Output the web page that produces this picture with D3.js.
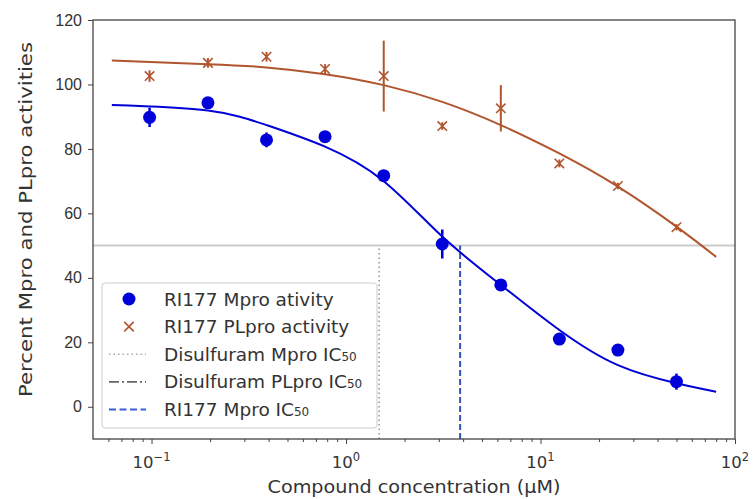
<!DOCTYPE html>
<html>
<head>
<meta charset="utf-8">
<script src="https://cdn.jsdelivr.net/npm/d3@7"></script>
<style>
  body { margin: 0; background: #fff; }
  svg { font-family: "DejaVu Sans", sans-serif; }
</style>
</head>
<body>
<div id="chart"></div>
<script>
// measured points (uM, percent activity)
const conc = [0.0977, 0.195, 0.39, 0.78, 1.5625, 3.125, 6.25, 12.5, 25, 50];
const mpro = [89.8, 94.3, 82.8, 83.8, 71.7, 50.5, 37.8, 21.0, 17.6, 7.8];
const mproErr = [3, 0.8, 2.3, 1, 1, 4.5, 1, 1, 1, 2.5];
const plpro = [102.6, 106.7, 108.6, 104.8, 102.6, 87.1, 92.6, 75.5, 68.5, 55.7];
const plproErr = [1.8, 1.5, 1.5, 1.5, 11, 1.2, 7.2, 1.2, 1, 1];

// fitted curves
const fitConc = [0.0625, 0.195, 0.39, 0.78, 1.5625, 3.125, 6.25, 12.5, 25, 50, 80];
const mproFit = [93.6, 91.9, 87.4, 80.7, 70.0, 52.8, 37.8, 23.8, 12.9, 7.3, 4.65];
const plproFit = [107.4, 106.3, 105.3, 103.2, 99.8, 94.6, 87.4, 78.6, 68.3, 55.9, 46.5];

// IC50 markers
const disulfMproIC50 = 1.48;
const ri177MproIC50 = 3.86;

const yTicks = [0, 20, 40, 60, 80, 100, 120];
const xTicks = [0.1, 1, 10, 100];
const xTickExp = ["\u22121", "0", "1", "2"];

const legendItems = [
  {label: "RI177 Mpro ativity", kind: "dot"},
  {label: "RI177 PLpro activity", kind: "x"},
  {label: "Disulfuram Mpro IC", sub: "50", kind: "dotted"},
  {label: "Disulfuram PLpro IC", sub: "50", kind: "dashdot"},
  {label: "RI177 Mpro IC", sub: "50", kind: "dashed"}
];

const blue = "#0000d8", brown = "#b0552e";
const W = 755, H = 499;
const m = {left: 93, right: 20, top: 20, bottom: 60};

const svg = d3.select("#chart").append("svg").attr("width", W).attr("height", H);

const x = d3.scaleLog().domain([0.05, 100]).range([m.left, W - m.right]);
const y = d3.scaleLinear().domain([-10, 120]).range([H - m.bottom, m.top]);

svg.append("defs").append("clipPath").attr("id", "clip")
  .append("rect").attr("x", m.left).attr("y", m.top)
  .attr("width", W - m.left - m.right).attr("height", H - m.top - m.bottom);

const plot = svg.append("g").attr("clip-path", "url(#clip)");

// 50% reference line
plot.append("line")
  .attr("x1", x(0.05)).attr("x2", x(100)).attr("y1", y(50)).attr("y2", y(50))
  .attr("stroke", "#cccccc").attr("stroke-width", 2);

// IC50 vertical lines
plot.append("line")
  .attr("x1", x(disulfMproIC50)).attr("x2", x(disulfMproIC50)).attr("y1", y(-10)).attr("y2", y(50))
  .attr("stroke", "#999").attr("stroke-width", 1.6).attr("stroke-dasharray", "1.5,3");
plot.append("line")
  .attr("x1", x(ri177MproIC50)).attr("x2", x(ri177MproIC50)).attr("y1", y(-10)).attr("y2", y(50))
  .attr("stroke", "#3355bb").attr("stroke-width", 2).attr("stroke-dasharray", "6,3");

const line = d3.line().curve(d3.curveNatural).x(d => x(d[0])).y(d => y(d[1]));
plot.append("path").datum(fitConc.map((c, i) => [c, plproFit[i]]))
  .attr("d", line).attr("fill", "none").attr("stroke", brown).attr("stroke-width", 2);
plot.append("path").datum(fitConc.map((c, i) => [c, mproFit[i]]))
  .attr("d", line).attr("fill", "none").attr("stroke", blue).attr("stroke-width", 2);

// error bars
plot.selectAll(".eb-p").data(conc).enter().append("line")
  .attr("x1", d => x(d)).attr("x2", d => x(d))
  .attr("y1", (d, i) => y(plpro[i] - plproErr[i])).attr("y2", (d, i) => y(plpro[i] + plproErr[i]))
  .attr("stroke", brown).attr("stroke-width", 2);
plot.selectAll(".eb-m").data(conc).enter().append("line")
  .attr("x1", d => x(d)).attr("x2", d => x(d))
  .attr("y1", (d, i) => y(mpro[i] - mproErr[i])).attr("y2", (d, i) => y(mpro[i] + mproErr[i]))
  .attr("stroke", blue).attr("stroke-width", 2.5);

// markers
const cross = d3.symbol().type(d3.symbolTimes).size(60);
plot.selectAll(".xm").data(conc).enter().append("path")
  .attr("d", cross)
  .attr("transform", (d, i) => `translate(${x(d)},${y(plpro[i])})`)
  .attr("fill", "none").attr("stroke", brown).attr("stroke-width", 1.6);
plot.selectAll(".dot").data(conc).enter().append("circle")
  .attr("cx", d => x(d)).attr("cy", (d, i) => y(mpro[i])).attr("r", 6.5)
  .attr("fill", blue);

// axes
const yAxis = svg.append("g").attr("transform", `translate(${m.left},0)`)
  .call(d3.axisLeft(y).tickValues(yTicks).tickSize(5).tickPadding(6));
const xAxis = svg.append("g").attr("transform", `translate(0,${H - m.bottom})`)
  .call(d3.axisBottom(x).tickValues(xTicks).tickSize(5).tickPadding(6).tickFormat(""));
const minor = [];
[0.01, 0.1, 1, 10].forEach(b => { for (let k = 2; k <= 9; k++) { const v = b * k; if (v > 0.05 && v < 100) minor.push(v); } });
svg.append("g").attr("transform", `translate(0,${H - m.bottom})`)
  .call(d3.axisBottom(x).tickValues(minor).tickSize(3).tickFormat(""))
  .call(g => g.select(".domain").remove());

[yAxis, xAxis].forEach(g => {
  g.selectAll("text").attr("font-size", 16).attr("fill", "#333");
  g.select(".domain").remove();
});
svg.selectAll(".tick line").attr("stroke", "#444");

xTicks.forEach((t, i) => {
  const tx = svg.append("text").attr("x", x(t)).attr("y", H - m.bottom + 29)
    .attr("text-anchor", "middle").attr("font-size", 16.5).attr("fill", "#333");
  tx.append("tspan").text("10");
  tx.append("tspan").attr("dy", -7).attr("font-size", 11.5).text(xTickExp[i]);
});

// frame
svg.append("rect").attr("x", m.left).attr("y", m.top)
  .attr("width", W - m.left - m.right).attr("height", H - m.top - m.bottom)
  .attr("fill", "none").attr("stroke", "#444").attr("stroke-width", 1.3);

// axis titles
svg.append("text").attr("x", (m.left + W - m.right) / 2).attr("y", H - 6)
  .attr("text-anchor", "middle").attr("font-size", 18.5).attr("fill", "#333")
  .attr("textLength", 293).attr("lengthAdjust", "spacingAndGlyphs")
  .text("Compound concentration (\u03bcM)");
svg.append("text").attr("transform", `translate(32,${(m.top + H - m.bottom) / 2 - 10}) rotate(-90)`)
  .attr("text-anchor", "middle").attr("font-size", 18.5).attr("fill", "#333")
  .attr("textLength", 355).attr("lengthAdjust", "spacingAndGlyphs")
  .text("Percent Mpro and PLpro activities");

// legend
const lg = svg.append("g").attr("transform", "translate(102,283)");
lg.append("rect").attr("width", 275).attr("height", 145).attr("rx", 3)
  .attr("fill", "#fff").attr("fill-opacity", 0.85).attr("stroke", "#ccc");
legendItems.forEach((it, i) => {
  const cy = 16 + i * 27.6;
  const g = lg.append("g").attr("transform", `translate(0,${cy})`);
  if (it.kind === "dot") g.append("circle").attr("cx", 27).attr("r", 6.5).attr("fill", blue);
  if (it.kind === "x") g.append("path").attr("d", cross).attr("transform", "translate(27,0)")
    .attr("fill", "none").attr("stroke", brown).attr("stroke-width", 1.6);
  if (it.kind === "dotted") g.append("line").attr("x1", 7).attr("x2", 44)
    .attr("stroke", "#aaa").attr("stroke-width", 1.6).attr("stroke-dasharray", "1.5,3");
  if (it.kind === "dashdot") g.append("line").attr("x1", 7).attr("x2", 44)
    .attr("stroke", "#666").attr("stroke-width", 1.8).attr("stroke-dasharray", "10,3,2,3");
  if (it.kind === "dashed") g.append("line").attr("x1", 7).attr("x2", 44)
    .attr("stroke", "#3b5bdb").attr("stroke-width", 2).attr("stroke-dasharray", "7,3.5");
  const t = g.append("text").attr("x", 62).attr("y", 6.5).attr("font-size", 18.5).attr("fill", "#333");
  t.append("tspan").text(it.label);
  if (it.sub) t.append("tspan").attr("font-size", 12).text(it.sub);
});
</script>
</body>
</html>
